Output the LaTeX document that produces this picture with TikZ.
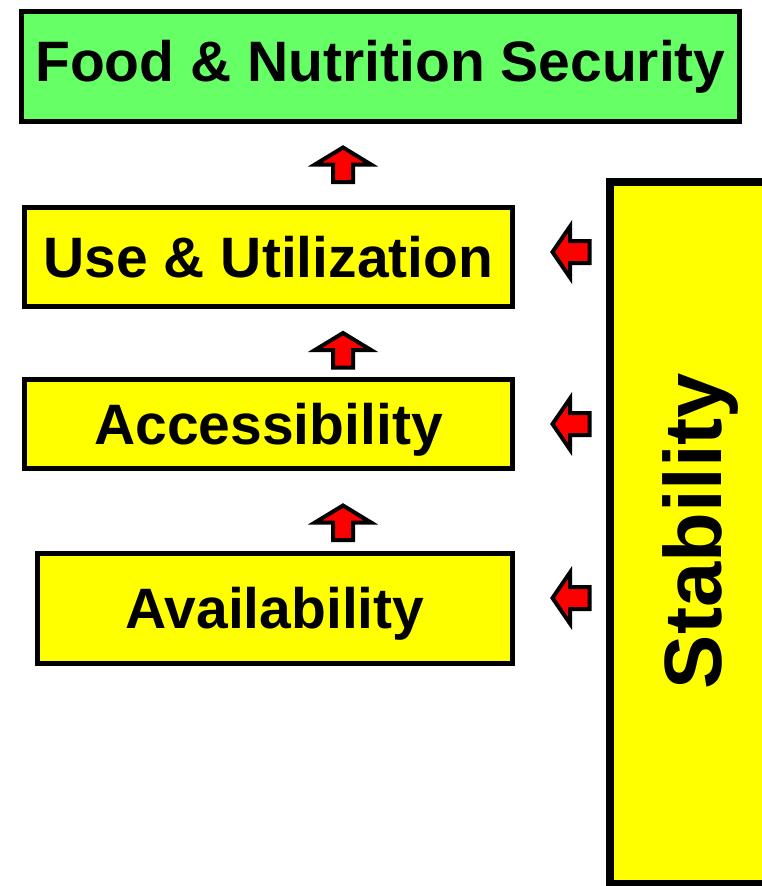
\documentclass[tikz,border=0pt]{standalone}
\usepackage{fontspec}
\setmainfont{Liberation Sans}
\definecolor{fnsgreen}{HTML}{66FF66}
\definecolor{pillaryellow}{HTML}{FFFF00}
\tikzset{
  box/.style={draw=black, line width=3.75pt, inner sep=0pt,
    font=\fontsize{42.75}{50}\selectfont\bfseries},
  pillar/.style={box, fill=pillaryellow, text height=30.6pt, text depth=0pt},
  goal/.style={box, fill=fnsgreen},
  blockarrow/.style={draw=black, line width=3pt, fill=red, line join=miter},
}
\begin{document}
\begin{tikzpicture}[x=0.75pt,y=-0.75pt]
    \useasboundingbox (0,0) rectangle (762,886);
    \clip (0,0) rectangle (762,886);

    % the goal and the three pillars
    \node[goal, minimum width=538.5pt, minimum height=82.5pt] (fns) at (380.5,66.5) {Food \& Nutrition Security};
    \node[pillar, minimum width=366pt, minimum height=74.25pt] (use) at (268.5,257) {Use \& Utilization};
    \node[pillar, minimum width=366pt, minimum height=66.75pt] (access) at (268.5,424) {Accessibility};
    \node[pillar, minimum width=356.25pt, minimum height=82.5pt] (avail) at (275,608.5) {Availability};

    % stability runs beside all of them
    \draw[line width=6pt, fill=pillaryellow] (610,182) rectangle (840,884);
    \node[rotate=90, font=\fontsize{61}{70}\selectfont\bfseries] (stab) at (700,531) {Stability};

    % block arrows
    \foreach \y in {147.5,333,505.5}
      \draw[blockarrow] (343,\y) -- ++(28,17) -- ++(-18,0) -- ++(0,17.5)
        -- ++(-20,0) -- ++(0,-17.5) -- ++(-18,0) -- cycle;
    \foreach \y in {252,424,598}
      \draw[blockarrow] (552.5,\y) -- ++(17.5,-25.5) -- ++(0,14.5) -- ++(19.5,0)
        -- ++(0,22) -- ++(-19.5,0) -- ++(0,14.5) -- cycle;
\end{tikzpicture}
\end{document}
